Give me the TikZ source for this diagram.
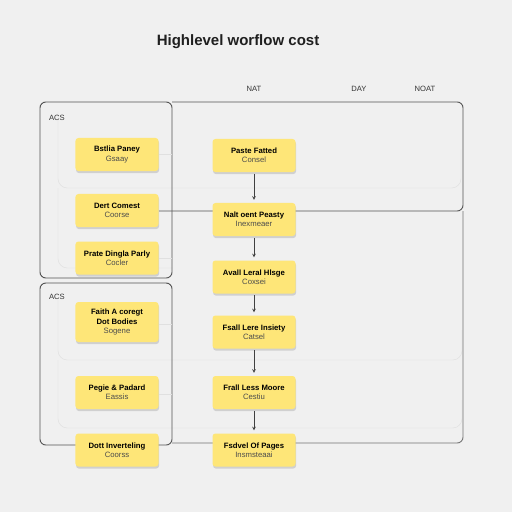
\documentclass[tikz,border=0pt]{standalone}
\usepackage{fontspec}
\setmainfont{Liberation Sans}
\usetikzlibrary{shapes,arrows,positioning,shadows}
\definecolor{notey}{RGB}{254,230,120}
\definecolor{bgpage}{RGB}{240,240,240}
\newcommand{\notelines}[2]{\textbf{#1}\\{\color{black!70}#2}}
\tikzset{
	note/.style={draw=none, fill=notey, rounded corners=2.5pt, minimum width=2.49cm, minimum height=0.99cm,
		align=center, inner sep=1pt, font=\fontsize{6.6}{8}\selectfont,
		drop shadow={shadow xshift=0.5pt, shadow yshift=-1.8pt, opacity=0.28}},
	outline/.style={line width=0.8pt, draw=black!68, rounded corners=5pt},
	faint/.style={line width=0.4pt, draw=black!12, rounded corners=8pt},
	header/.style={font=\fontsize{6.5}{7}\selectfont, text=black!80}
}
\begin{document}
\begin{tikzpicture}[x=0.03cm, y=-0.03cm]
				\fill [bgpage] (0,0) rectangle (512,512) ;
				\useasboundingbox (0,0) rectangle (512,512) ;
				\node [font=\bfseries\fontsize{12.8}{14}\selectfont, text=black!88] (title) at (238,42) {Highlevel worflow cost};
				\node [header] (hnat) at (254,89) {NAT};
				\node [header] (hday) at (359,89) {DAY};
				\node [header] (hnoat) at (425,89) {NOAT};
				\foreach \gx in {333,390}
					\draw [faint, draw=black!6] (\gx,102) -- (\gx,443) ;
				\draw [faint] (58,112) -- (58,188) -- (461,188) -- (461,150) ;
				\draw [faint] (58,188) -- (58,268) -- (172,268) ;
				\draw [faint] (58,300) -- (58,360) -- (462,360) -- (462,330) ;
				\draw [faint] (58,360) -- (58,428) -- (462,428) -- (462,400) ;
				\draw [outline] (40,102) rectangle (172,278) ;
				\draw [outline] (40,283) rectangle (172,445) ;
				\draw [outline] (172,102) -- (463,102) -- (463,211) -- (159,211) ;
				\draw [outline, draw=black!55] (463,211) -- (463,443) -- (172,443) ;
				\node [header, anchor=west] (acs1) at (45,118) {ACS};
				\node [header, anchor=west] (acs2) at (45,297) {ACS};
				\node [note] (l1) at (117,154.5) {\notelines{Bstlia Paney}{Gsaay}};
				\node [note] (l2) at (117,210.5) {\notelines{Dert Comest}{Coorse}};
				\node [note] (l3) at (117,258) {\notelines{Prate Dingla Parly}{Cocler}};
				\node [note, minimum height=1.2cm] (l4) at (117,322) {\textbf{Faith A coregt}\\\textbf{Dot Bodies}\\{\color{black!70}Sogene}};
				\node [note] (l5) at (117,392.5) {\notelines{Pegie \& Padard}{Eassis}};
				\node [note] (l6) at (117,450) {\notelines{Dott Inverteling}{Coorss}};
				\node [note] (m1) at (254,155.5) {\notelines{Paste Fatted}{Consel}};
				\node [note] (m2) at (254,219.5) {\notelines{Nalt oent Peasty}{Inexmeaer}};
				\node [note] (m3) at (254,277) {\notelines{Avall Leral Hlsge}{Coxsei}};
				\node [note] (m4) at (254,332) {\notelines{Fsall Lere Insiety}{Catsel}};
				\node [note] (m5) at (254,392.5) {\notelines{Frall Less Moore}{Cestiu}};
				\node [note] (m6) at (254,450) {\notelines{Fsdvel Of Pages}{Insmsteaai}};
				\coordinate (e1) at (172,154.5) ;
				\coordinate (e3) at (172,258) ;
				\coordinate (e4) at (172,324) ;
				\coordinate (e5) at (172,394) ;
				\draw [faint] (l1) -- (e1) ;
				\draw [faint] (l3) -- (e3) ;
				\draw [faint] (l4.east |- e4) -- (e4) ;
				\draw [faint] (l5.east |- e5) -- (e5) ;
				\foreach \a/\b in {m1/m2,m2/m3,m3/m4,m4/m5,m5/m6}
					\draw [->, >=stealth, shorten <=1.5pt, shorten >=2.5pt] [thin, draw=black!75] (\a) -- (\b) ;
				\end{tikzpicture}
\end{document}
